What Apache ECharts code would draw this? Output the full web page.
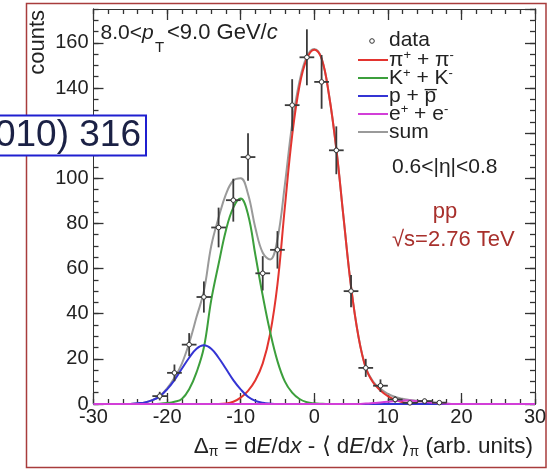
<!DOCTYPE html>
<html>
<head>
<meta charset="utf-8">
<script src="https://cdn.jsdelivr.net/npm/echarts@6/dist/echarts.min.js"></script>
<style>
  html, body { margin: 0; padding: 0; background: #fff; }
  #chart { width: 548px; height: 470px; }
</style>
</head>
<body>
<div id="chart"></div>
<script>
// x grid of the fitted curves (arb. units)
var curveX = [-30,-29,-28,-27,-26,-25,-24,-23,-22,-21,-20,-19,-18,-17,-16,-15,-14,-13,-12,-11,
              -10,-9,-8,-7,-6,-5,-4,-3,-2,-1,0,1,2,3,4,5,6,7,8,9,
              10,11,12,13,14,15,16,17,18,19,20,21,22,23,24,25,26,27,28,29,30];
var pionCurve = [0,0,0,0,0,0,0,0,0,0,0,0,0,0,0,0,0,0,
                 0.2,1,2.8,5.8,10.5,18,31,53,87,119,141,153,
                 157,
                 153,137,113,82,52,30,16,9.5,6,3.5,1.8,0.8,0.3,0.1,
                 0,0,0,0,0,0,0,0,0,0,0,0,0,0,0,0];
var kaonCurve = [0,0,0,0,0,0,0,0,0,
                 0.1,0.4,1,2.2,6.5,14,25,46,62,77,87,91,84,66,48,32,19,10,5,2.2,0.8,0.3,0.1,
                 0,0,0,0,0,0,0,0,0,0,0,0,0,0,0,0,0,0,0,0,0,0,0,0,0,0,0,0,0];
var protonCurve = [0,0,0,0,0,0,
                   0.3,0.7,1.7,3.4,6.5,10.6,15.6,20.5,24.5,26,24.5,20.5,15.6,10.6,6.5,3.2,1.4,0.6,0.2,
                   0,0,0,0,0,0,0,0,0,0,0,0,0,0,0,0,0,0,0,0,0,0,0,0,0,0,0,0,0,0,0,0,0,0,0,0];
var electronCurve = [0,0,0,0,0,0,0,0,0,0,0,0,0,0,0,0,0,0,0,0,0,0,0,0,0,0,0,0,0,0,0,0,0,0,0,0,0,
                     0.2,0.4,0.7,1,1.3,1.5,1.5,1.3,1,0.6,0.3,0.1,
                     0,0,0,0,0,0,0,0,0,0,0,0];
var sumCurve = [0,0,0,0,0,0,
                0.3,0.7,1.7,3.5,6.9,11.6,17.8,27,38.5,50,70,82.5,93,99,100,93,78,67,64,73,97,124,143,154,
                157.3,153.1,137,113,82,52,30,16.2,9.9,6.7,4.5,3.1,2.3,1.8,1.4,1,0.6,0.3,0.1,
                0,0,0,0,0,0,0,0,0,0,0,0];

// measured points
var dataX   = [-21, -19, -17, -15, -13, -11, -9, -7, -5, -3, -1, 1, 3, 5, 7, 9, 11, 13, 15, 17];
var dataY   = [3.5, 13.8, 26.3, 47.4, 78.2, 90.3, 109.4, 57.9, 68.3, 132.4, 153.6, 142.7, 112.4, 50.0, 16.0, 8.1, 2.0, 0.5, 1.3, 0.6];
var dataErr = [1.9, 3.7, 5.1, 6.9, 8.8, 9.5, 10.5, 7.6, 8.3, 11.5, 12.4, 11.9, 10.6, 7.1, 4.0, 2.8, 1.4, 0.7, 1.1, 0.8];
var binHalf = 1;

var xTicks = { min: -30, max: 30, step: 10, minorStep: 2 };
var yTicks = { min: 0, max: 175, step: 20, minorStep: 5 };

var fontFam = "'Liberation Sans', Arial, sans-serif";
var colors = { pion: '#e3342f', kaon: '#3c9f3c', proton: '#3434d4', electron: '#d23fd8', sum: '#9a9a9a' };

var chart = echarts.init(document.getElementById('chart'));

function pairs(ys) {
  return curveX.map(function (x, i) { return [x, ys[i]]; });
}

function curve(name, ys, color) {
  return {
    name: name,
    type: 'line',
    data: pairs(ys),
    smooth: 0.4,
    showSymbol: false,
    clip: false,
    lineStyle: { color: color, width: 2 },
    silent: true
  };
}

function renderPoint(params, api) {
  var x = api.value(0), y = api.value(1), e = api.value(2);
  var c = api.coord([x, y]);
  var lo = api.coord([x, Math.max(y - e, 0)]);
  var hi = api.coord([x, y + e]);
  var l = api.coord([x - binHalf, y]);
  var r = api.coord([x + binHalf, y]);
  var st = { stroke: '#3a3a3a', lineWidth: 1.8 };
  return {
    type: 'group',
    children: [
      { type: 'line', shape: { x1: lo[0], y1: lo[1], x2: hi[0], y2: hi[1] }, style: st },
      { type: 'line', shape: { x1: l[0], y1: l[1], x2: r[0], y2: r[1] }, style: st },
      { type: 'circle', shape: { cx: c[0], cy: c[1], r: 2.3 }, style: { fill: '#fff', stroke: '#333', lineWidth: 1 } }
    ]
  };
}

// major and minor ticks are drawn as two overlaid axes each
function axisOf(type, pos, range, step, len, labels) {
  return {
    type: 'value', position: pos,
    min: range.min, max: range.max, interval: step,
    axisLine: { show: true, onZero: false, lineStyle: { color: '#333', width: 1 } },
    axisTick: { show: true, inside: true, length: len, lineStyle: { color: '#333', width: 1.3 } },
    splitLine: { show: false },
    axisLabel: {
      show: labels, showMaxLabel: type === 'x', fontSize: 20, fontFamily: fontFam, color: '#222',
      margin: type === 'x' ? 3 : 5
    }
  };
}

var legendRich = {
  m: { fontSize: 21, fontFamily: fontFam, fill: '#222', lineHeight: 22, verticalAlign: 'bottom' },
  u: { fontSize: 13, fontFamily: fontFam, fill: '#222', lineHeight: 14, verticalAlign: 'top' }
};
var legendRows = [
  { y: 60, color: colors.pion, text: '{m|π}{u|+}{m| + π}{u|-}' },
  { y: 78, color: colors.kaon, text: '{m|K}{u|+}{m| + K}{u|-}' },
  { y: 96, color: colors.proton, text: '{m|p + p\u0305}' },
  { y: 114, color: colors.electron, text: '{m|e}{u|+}{m| + e}{u|-}' },
  { y: 132, color: colors.sum, text: '{m|sum}' }
];

var graphics = [
  { type: 'rect', z: -10, shape: { x: 26.5, y: 3.5, width: 519.5, height: 464 },
    style: { fill: 'none', stroke: '#a83c3c', lineWidth: 1.5 } },
  { type: 'text', x: 38, y: 10, rotation: Math.PI / 2,
    style: { text: 'counts', fontSize: 22, fontFamily: fontFam, fill: '#222', align: 'right', verticalAlign: 'middle' } },
  { type: 'text', x: 100.5, y: 33,
    style: { text: '8.0<', fontSize: 21, fontFamily: fontFam, fill: '#222', align: 'left', verticalAlign: 'middle' } },
  { type: 'text', x: 142, y: 33,
    style: { text: 'p', fontSize: 21, fontStyle: 'italic', fontFamily: fontFam, fill: '#222', align: 'left', verticalAlign: 'middle' } },
  { type: 'text', x: 155, y: 47.5,
    style: { text: 'T', fontSize: 15, fontFamily: fontFam, fill: '#222', align: 'left', verticalAlign: 'middle' } },
  { type: 'text', x: 167, y: 33,
    style: { text: '{n|<9.0 GeV/}{i|c}', align: 'left', verticalAlign: 'middle',
      rich: {
        n: { fontSize: 22, fontFamily: fontFam, fill: '#222' },
        i: { fontSize: 22, fontFamily: fontFam, fontStyle: 'italic', fill: '#222' }
      } } },
  { type: 'circle', shape: { cx: 372, cy: 41, r: 2.3 }, style: { fill: '#fff', stroke: '#333', lineWidth: 1 } },
  { type: 'text', x: 389, y: 40,
    style: { text: 'data', fontSize: 21, fontFamily: fontFam, fill: '#222', align: 'left', verticalAlign: 'middle' } },
  { type: 'text', x: 392, y: 167,
    style: { text: '0.6<|η|<0.8', fontSize: 21, fontFamily: fontFam, fill: '#222', align: 'left', verticalAlign: 'middle' } },
  { type: 'text', x: 445, y: 212,
    style: { text: 'pp', fontSize: 22, fontFamily: fontFam, fill: '#a8302c', align: 'center', verticalAlign: 'middle' } },
  { type: 'text', x: 392, y: 240,
    style: { text: '√s=2.76 TeV', fontSize: 22, fontFamily: fontFam, fill: '#a8302c', align: 'left', verticalAlign: 'middle' } },
  { type: 'text', x: 533, y: 447,
    style: { text: '{n|Δ}{s|π}{n| = d}{i|E}{n|/d}{i|x}{n| - ⟨ d}{i|E}{n|/d}{i|x}{n| ⟩}{s|π}{n| (arb. units)}',
      align: 'right', verticalAlign: 'middle',
      rich: {
        n: { fontSize: 22.5, fontFamily: fontFam, fill: '#222', lineHeight: 24, verticalAlign: 'top' },
        i: { fontSize: 22.5, fontFamily: fontFam, fontStyle: 'italic', fill: '#222', lineHeight: 24, verticalAlign: 'top' },
        s: { fontSize: 14, fontFamily: fontFam, fill: '#222', lineHeight: 12, verticalAlign: 'bottom' }
      } } },
  { type: 'rect', z: 100, shape: { x: -4, y: 115.5, width: 150, height: 40 },
    style: { fill: '#fff', stroke: '#1f1fd0', lineWidth: 2 } },
  { type: 'text', z: 101, x: 141, y: 136,
    style: { text: '010) 316', fontSize: 37, fontFamily: fontFam, fill: '#1b2145', align: 'right', verticalAlign: 'middle' } }
];

legendRows.forEach(function (row) {
  graphics.push({ type: 'line', shape: { x1: 358, y1: row.y, x2: 388, y2: row.y },
    style: { stroke: row.color, lineWidth: 2 } });
  graphics.push({ type: 'text', x: 389, y: row.y,
    style: { text: row.text, rich: legendRich, align: 'left', verticalAlign: 'middle' } });
});

var option = {
  animation: false,
  backgroundColor: '#fff',
  grid: { left: 93.5, right: 13, top: 9, bottom: 66, containLabel: false, outerBoundsMode: 'none' },
  xAxis: [
    axisOf('x', 'bottom', xTicks, xTicks.step, 11, true),
    axisOf('x', 'bottom', xTicks, xTicks.minorStep, 5, false),
    axisOf('x', 'top', xTicks, xTicks.step, 11, false),
    axisOf('x', 'top', xTicks, xTicks.minorStep, 5, false)
  ],
  yAxis: [
    axisOf('y', 'left', yTicks, yTicks.step, 10, true),
    axisOf('y', 'left', yTicks, yTicks.minorStep, 5, false),
    axisOf('y', 'right', yTicks, yTicks.step, 10, false),
    axisOf('y', 'right', yTicks, yTicks.minorStep, 5, false)
  ],
  series: [
    curve('sum', sumCurve, colors.sum),
    curve('pi', pionCurve, colors.pion),
    curve('K', kaonCurve, colors.kaon),
    curve('p', protonCurve, colors.proton),
    curve('e', electronCurve, colors.electron),
    {
      name: 'data',
      type: 'custom',
      renderItem: renderPoint,
      encode: { x: 0, y: 1 },
      data: dataX.map(function (x, i) { return [x, dataY[i], dataErr[i]]; }),
      z: 5
    }
  ],
  graphic: graphics
};
chart.setOption(option);
</script>
</body>
</html>
